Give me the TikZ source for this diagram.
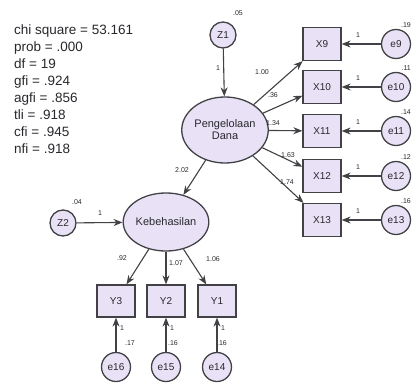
\documentclass[tikz,border=0pt]{standalone}
\usepackage{fontspec}
\setmainfont{Liberation Sans}
\usetikzlibrary{arrows.meta,shapes.geometric}

\definecolor{semfill}{RGB}{233,226,246}
\definecolor{semline}{RGB}{65,65,70}
\definecolor{semtext}{RGB}{40,40,45}

\tikzset{
  latent/.style={ellipse, draw=semline, fill=semfill, line width=1.3pt, inner sep=0pt,
    text=semtext, font=\fontsize{11}{12}\selectfont, align=center},
  obsbox/.style={rectangle, draw=semline, fill=semfill, line width=1.3pt, inner sep=0pt,
    minimum width=38pt, minimum height=33pt, text=semtext, font=\fontsize{10}{12}\selectfont},
  errnode/.style={circle, draw=semline, fill=semfill, line width=1.3pt, inner sep=0pt,
    minimum size=29pt, text=semtext, font=\fontsize{10}{12}\selectfont},
  semarrow/.style={draw=semline, line width=1.1pt, -{Stealth[length=9pt, width=7pt]}},
  est/.style={text=semtext, inner sep=0pt, font=\fontsize{7}{8}\selectfont},
}

\begin{document}
\begin{tikzpicture}[x=1pt,y=-1pt]
\useasboundingbox (0,0) rectangle (412,383);
% fit indices
\node[anchor=north west, inner sep=0pt, align=left, text=semtext,
  font=\fontsize{13.5}{17}\selectfont] (fit) at (14,25)
  {chi square = 53.161\\prob = .000\\df = 19\\gfi = .924\\agfi = .856\\tli = .918\\cfi = .945\\nfi = .918};

% latent variables
\node[latent, minimum width=76pt, minimum height=66pt] (peng) at (225,130) {Pengelolaan\\Dana};
\node[latent, minimum width=76pt, minimum height=58pt] (keb) at (166,222) {Kebehasilan};
\node[errnode, minimum size=26pt] (z1) at (223,35) {Z1};
\node[errnode, minimum size=26pt] (z2) at (63,223) {Z2};

% indicators of Pengelolaan Dana
\foreach \n/\y in {9/44,10/87,11/131,12/176,13/220} {
  \node[obsbox] (x\n) at (322,\y) {X\n};
  \node[errnode] (e\n) at (396,\y) {e\n};
  \draw[semarrow] (e\n) -- (x\n);
  \node[est] (one\n) at (358,\y-9) {1};
}
\node[est, anchor=east] (v9) at (411,25) {.19};
\node[est, anchor=east] (v10) at (411,68) {.11};
\node[est, anchor=east] (v11) at (411,112) {.14};
\node[est, anchor=east] (v12) at (411,157) {.12};
\node[est, anchor=east] (v13) at (411,201) {.16};

% indicators of Kebehasilan
\foreach \n/\m/\x in {3/16/116,2/15/166,1/14/217} {
  \node[obsbox, minimum height=32pt] (y\n) at (\x,301) {Y\n};
  \node[errnode] (e\m) at (\x,367) {e\m};
  \draw[semarrow] (e\m) -- (y\n);
  \node[est] (onee\m) at (\x+6,328) {1};
}
\node[est] (v16) at (130,343) {.17};
\node[est] (v15) at (173,343) {.16};
\node[est] (v14) at (222,343) {.16};

% structural paths
\draw[semarrow] (z1) -- (peng);
\draw[semarrow] (z2) -- (keb);
\draw[semarrow] (peng) -- (keb);
\foreach \n in {9,...,13} \draw[semarrow] (peng) -- (x\n);
\foreach \n in {3,2,1} \draw[semarrow] (keb) -- (y\n);

% estimates
\node[est] (vz1) at (238,13) {.05};
\node[est] (vz2) at (77,202) {.04};
\node[est] (wz1) at (218,68) {1};
\node[est] (wz2) at (100,213) {1};
\node[est] (w9) at (262,72) {1.00};
\node[est] (w10) at (273,95) {.36};
\node[est, anchor=west] (w11) at (266,123) {1.34};
\node[est] (w12) at (288,155) {1.63};
\node[est] (w13) at (287,182) {1.74};
\node[est] (wk) at (182,170) {2.02};
\node[est] (w3) at (122,258) {.92};
\node[est, anchor=west] (w2) at (169,263) {1.07};
\node[est] (w1) at (213,259) {1.06};
\end{tikzpicture}
\end{document}
